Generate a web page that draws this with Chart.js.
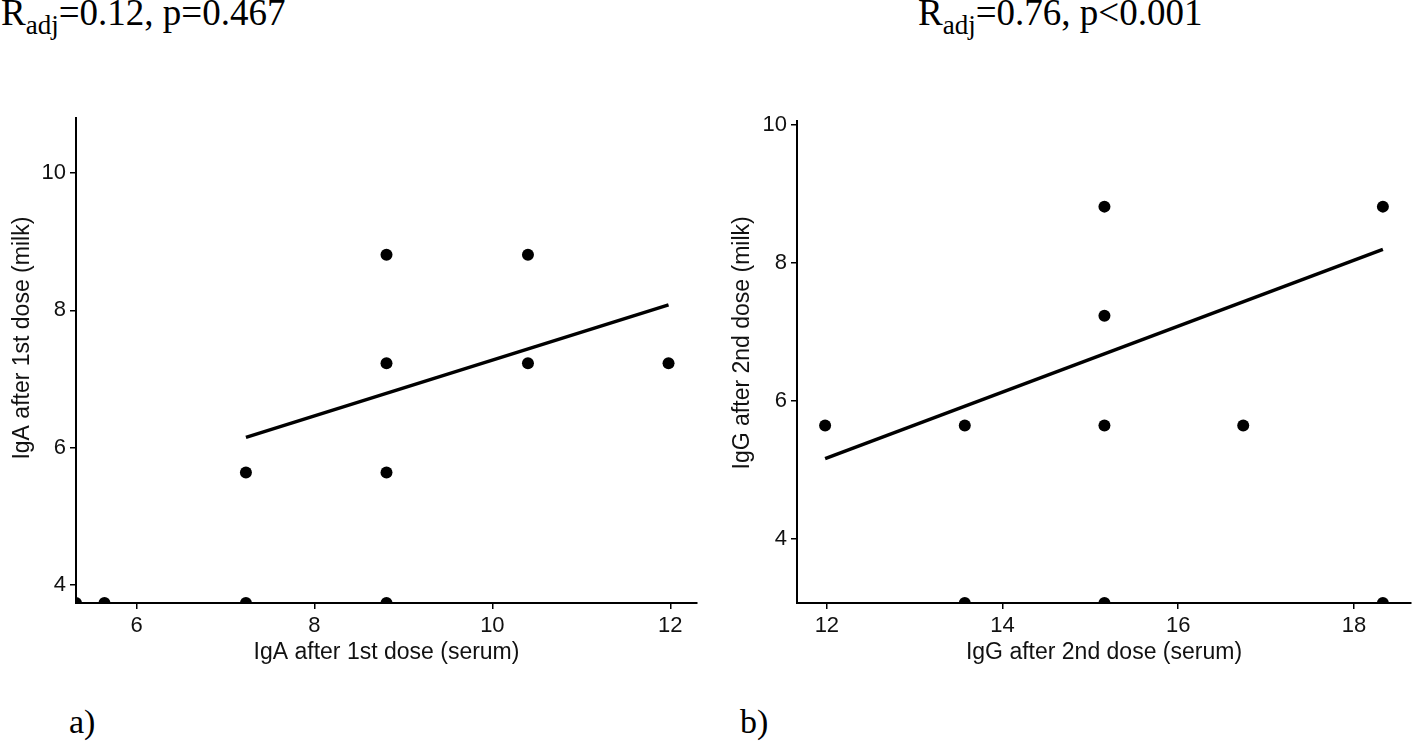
<!DOCTYPE html>
<html>
<head>
<meta charset="utf-8">
<script src="https://cdn.jsdelivr.net/npm/chart.js@4/dist/chart.umd.min.js"></script>
<style>
  body { margin: 0; background: #fff; width: 1417px; height: 742px; position: relative; overflow: hidden; }
  canvas { position: absolute; }
  .stat { position: absolute; font-family: 'Liberation Serif', serif; font-size: 37px; line-height: 1; color: #000; white-space: nowrap; }
  .stat sub { font-size: 27px; vertical-align: -9px; line-height: 0; }
  .panel { position: absolute; font-family: 'Liberation Serif', serif; font-size: 34px; line-height: 1; color: #000; }
</style>
</head>
<body>
<div class="stat" style="left:1px; top:-6px;">R<sub>adj</sub>=0.12, p=0.467</div>
<div class="stat" style="left:918px; top:-6px;">R<sub>adj</sub>=0.76, p&lt;0.001</div>
<canvas id="chartA" width="710" height="590" style="left:0; top:100px;"></canvas>
<canvas id="chartB" width="697" height="590" style="left:720px; top:100px;"></canvas>
<div class="panel" style="left:69px; top:705px;">a)</div>
<div class="panel" style="left:740px; top:705px;">b)</div>
<script>
// panel a: IgA after 1st dose
const serumA = [5.32, 5.64, 7.23, 8.81, 7.23, 8.81, 8.81, 8.81, 10.4, 10.4, 11.98];
const milkA = [3.74, 3.74, 3.74, 3.74, 5.64, 5.64, 7.23, 8.81, 8.81, 7.23, 7.23];
const fitAx = [7.23, 11.98];
const fitAy = [6.15, 8.08];
const xTicksA = [6, 8, 10, 12];
const yTicksA = [4, 6, 8, 10];

// panel b: IgG after 2nd dose
const serumB = [11.98, 13.57, 13.57, 15.16, 15.16, 15.16, 15.16, 16.74, 18.33, 18.33];
const milkB = [5.64, 5.64, 3.07, 8.81, 7.23, 5.64, 3.07, 5.64, 8.81, 3.07];
const fitBx = [11.98, 18.33];
const fitBy = [5.16, 8.19];
const xTicksB = [12, 14, 16, 18];
const yTicksB = [4, 6, 8, 10];

Chart.defaults.font.family = "'Liberation Sans', Arial, sans-serif";
Chart.defaults.color = '#000';

function pts(xs, ys) {
  return xs.map((x, i) => ({ x: x, y: ys[i] }));
}

function axis(ticks, min, max, title, fitSize, horizontal) {
  return {
    type: 'linear',
    min: min,
    max: max,
    afterBuildTicks: s => { s.ticks = ticks.map(v => ({ value: v })); },
    afterFit: s => { if (horizontal) s.height = fitSize; else s.width = fitSize; },
    grid: { display: true, drawOnChartArea: false, drawTicks: true, tickLength: 6, color: '#000', lineWidth: 1.5 },
    border: { display: true, color: '#000', width: 2 },
    ticks: { font: { size: 22 }, color: '#111', padding: 4 },
    title: {
      display: true, text: title, color: '#111',
      font: { size: 23 },
      padding: horizontal ? { top: 0, bottom: 24 } : { top: 9, bottom: 0 }
    }
  };
}

function makeChart(id, xs, ys, fx, fy, xt, yt, xr, yr, xTitle, yTitle, yWidth, pad) {
  return new Chart(document.getElementById(id), {
    type: 'scatter',
    data: {
      datasets: [
        {
          data: pts(fx, fy),
          showLine: true,
          borderColor: '#000',
          borderWidth: 3.5,
          pointRadius: 0,
          clip: 0
        },
        {
          data: pts(xs, ys),
          backgroundColor: '#000',
          borderColor: '#000',
          pointRadius: 6,
          borderWidth: 0,
          clip: 0
        }
      ]
    },
    options: {
      responsive: false,
      animation: false,
      layout: { padding: pad },
      plugins: { legend: { display: false }, tooltip: { enabled: false } },
      scales: {
        x: axis(xt, xr[0], xr[1], xTitle, 87, true),
        y: axis(yt, yr[0], yr[1], yTitle, yWidth, false)
      }
    }
  });
}

// leading spaces nudge the rotated y titles upward, as in the original
makeChart('chartA', serumA, milkA, fitAx, fitAy, xTicksA, yTicksA,
  [5.32, 12.3], [3.74, 10.8],
  'IgA after 1st dose (serum)', '       IgA after 1st dose (milk)', 76,
  { top: 18, right: 13, left: 0, bottom: 0 });

makeChart('chartB', serumB, milkB, fitBx, fitBy, xTicksB, yTicksB,
  [11.66, 18.65], [3.07, 10.05],
  'IgG after 2nd dose (serum)', '      IgG after 2nd dose (milk)', 77,
  { top: 21, right: 0, left: 0, bottom: 0 });
</script>
</body>
</html>
